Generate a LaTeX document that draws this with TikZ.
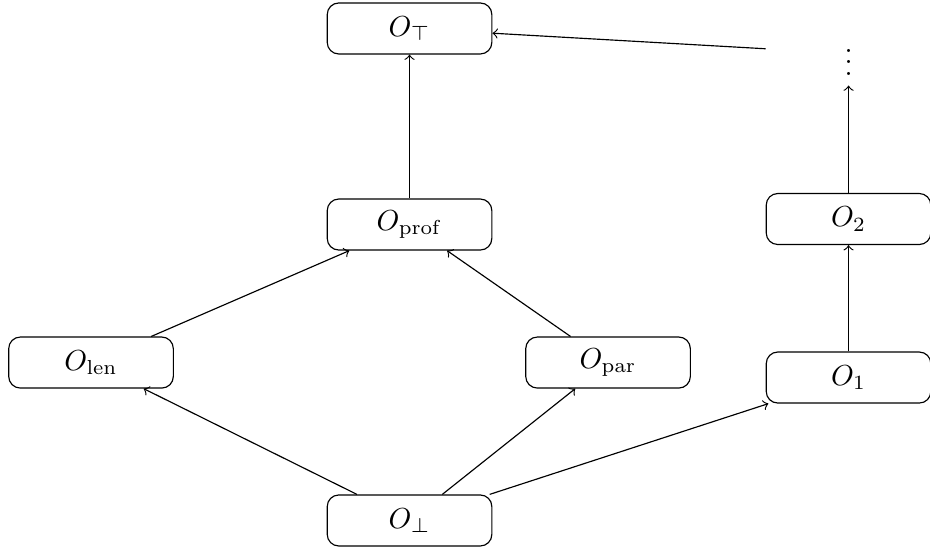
\documentclass[tikz,border=0pt]{standalone}
\usepackage{amsmath,amssymb}
\usepackage{tikz}
\usetikzlibrary{positioning}

\begin{document}
\begin{tikzpicture}[box/.style={draw, rounded corners, minimum width=2cm, minimum height=0.62cm}]
    \useasboundingbox (0,0) rectangle (11.3,-6.683);

    % Lattice of orders
    \node[box] (top) at (4.976,-0.346) {$O_{\top}$};
    \node[box] (prof) at (4.976,-2.728) {$O_{\mathrm{prof}}$};
    \node[box] (len) at (1.106,-4.405) {$O_{\mathrm{len}}$};
    \node[box] (par) at (7.388,-4.405) {$O_{\mathrm{par}}$};
    \node[box] (bot) at (4.976,-6.324) {$O_{\bot}$};

    % Chain on the right
    \node[box] (one) at (10.31,-4.587) {$O_1$};
    \node[box] (two) at (10.31,-2.661) {$O_2$};
    \node[box, draw=none] (dots) at (10.31,-0.65) {$\vdots$};

    \draw[->] (bot) -- (len);
    \draw[->] (bot) -- (par);
    \draw[->] (bot) -- (one);
    \draw[->] (len) -- (prof);
    \draw[->] (par) -- (prof);
    \draw[->] (prof) -- (top);
    \draw[->] (one) -- (two);
    \draw[->] (two) -- (dots);
    \draw[->] (dots) -- (top);
\end{tikzpicture}
\end{document}
